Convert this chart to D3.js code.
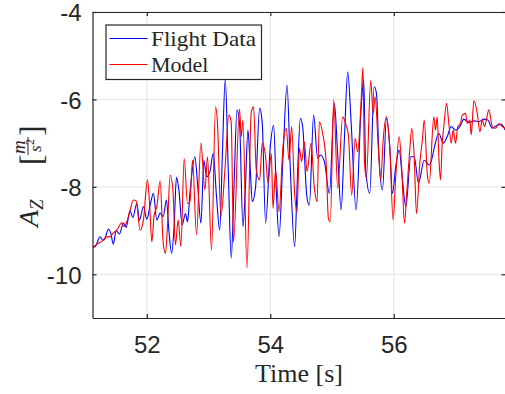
<!DOCTYPE html>
<html>
<head>
<meta charset="utf-8">
<script src="https://cdn.jsdelivr.net/npm/d3@7"></script>
<style>
  body { margin: 0; background: #fff; }
  svg { display: block; }
</style>
</head>
<body>
<div id="chart"></div>
<script>
// values (time in s, acceleration in m/s^2)
const flightT = [51.124,51.162,51.243,51.286,51.319,51.377,51.416,51.458,51.502,51.556,
  51.621,51.664,51.729,51.773,51.838,51.880,51.945,52.000,52.054,52.107,
  52.162,52.216,52.265,52.318,52.357,52.402,52.443,52.480,52.519,52.573,
  52.626,52.659,52.698,52.779,52.821,52.876,52.925,52.967,53.022,53.076,
  53.129,53.181,53.221,53.270,53.319,53.367,53.416,53.460,53.502,53.557,
  53.595,53.638,53.676,53.708,53.762,53.827,53.870,53.924,54.000,54.054,
  54.097,54.141,54.206,54.271,54.325,54.394,54.438,54.487,54.524,54.595,
  54.633,54.702,54.767,54.811,54.876,54.957,55.038,55.092,55.147,55.200,
  55.254,55.309,55.390,55.471,55.514,55.546,55.611,55.682,55.720,55.763,
  55.817,55.882,55.935,55.979,56.032,56.088,56.141,56.195,56.276,56.331,
  56.401,56.493,56.574,56.612,56.660,56.730,56.802,56.866,56.931,57.001,
  57.071,57.135,57.217,57.298,57.379,57.460,57.525,57.596,57.677,57.742,57.804];
const flightA = [-9.38,-9.37,-9.14,-9.22,-9.19,-8.97,-9.06,-9.31,-9.00,-9.08,
  -8.82,-8.93,-8.55,-8.70,-8.38,-8.76,-8.45,-8.74,-8.42,-8.15,
  -8.76,-8.60,-8.68,-8.30,-8.99,-9.52,-8.87,-7.78,-8.07,-8.87,
  -8.61,-8.80,-8.15,-7.31,-7.92,-8.83,-7.39,-7.77,-7.65,-7.23,
  -8.23,-8.99,-7.39,-5.54,-7.61,-9.63,-7.84,-6.24,-6.55,-8.91,
  -8.07,-6.70,-7.61,-8.34,-8.00,-6.20,-6.55,-8.83,-7.08,-6.59,
  -8.07,-9.14,-7.31,-5.67,-7.61,-9.37,-7.84,-6.43,-6.62,-8.26,
  -8.42,-6.36,-7.35,-7.27,-7.42,-8.15,-6.09,-7.27,-8.53,-6.93,
  -5.37,-6.51,-8.53,-6.20,-5.56,-7.61,-8.15,-5.71,-5.86,-7.39,
  -8.07,-6.43,-7.08,-8.15,-7.54,-7.16,-7.84,-8.45,-7.31,-7.31,
  -7.92,-7.39,-7.50,-7.39,-7.08,-6.78,-7.00,-6.85,-6.62,-6.70,
  -6.62,-6.45,-6.53,-6.49,-6.51,-6.45,-6.47,-6.66,-6.59,-6.57,-6.70];

const modelT = [51.124,51.194,51.296,51.340,51.405,51.454,51.514,51.595,51.632,51.685,
  51.729,51.783,51.827,51.891,51.945,52.010,52.046,52.081,52.119,52.162,
  52.216,52.265,52.302,52.334,52.378,52.422,52.464,52.508,52.552,52.605,
  52.659,52.698,52.740,52.805,52.876,52.941,52.983,53.048,53.113,53.145,
  53.200,53.265,53.330,53.367,53.405,53.502,53.530,53.557,53.622,53.692,
  53.729,53.773,53.827,53.870,53.924,53.963,54.016,54.044,54.086,54.141,
  54.206,54.260,54.303,54.346,54.394,54.433,54.471,54.508,54.552,54.595,
  54.660,54.714,54.758,54.795,54.848,54.904,54.941,54.973,55.027,55.092,
  55.173,55.228,55.265,55.319,55.374,55.416,55.471,55.501,55.525,55.557,
  55.627,55.666,55.698,55.752,55.789,55.828,55.882,55.935,55.990,56.032,
  56.088,56.130,56.174,56.206,56.259,56.292,56.331,56.368,56.422,56.466,
  56.493,56.547,56.574,56.649,56.676,56.704,56.730,56.757,56.785,56.811,
  56.855,56.892,56.931,56.963,57.001,57.038,57.082,57.109,57.163,57.191,
  57.233,57.255,57.298,57.353,57.395,57.434,57.471,57.504,57.541,57.596,
  57.650,57.703,57.758,57.804];
const modelA = [-9.38,-9.31,-9.22,-9.15,-9.14,-9.06,-8.99,-8.82,-8.91,-8.76,
  -8.53,-8.30,-8.32,-8.99,-8.76,-7.84,-8.42,-9.26,-8.64,-8.45,
  -7.86,-9.29,-9.52,-8.91,-7.73,-8.07,-9.33,-8.76,-9.37,-7.35,
  -8.38,-8.34,-7.39,-9.10,-7.00,-8.07,-7.31,-9.45,-6.17,-6.55,
  -8.68,-7.61,-6.36,-6.52,-9.26,-6.22,-6.85,-6.47,-9.86,-6.29,
  -6.17,-7.61,-7.84,-7.00,-7.31,-7.92,-7.23,-8.49,-7.61,-8.57,
  -7.08,-6.66,-7.39,-6.62,-8.15,-8.57,-7.12,-7.42,-6.97,-7.65,
  -7.00,-8.03,-8.34,-6.51,-6.78,-7.42,-8.72,-8.80,-6.01,-8.03,
  -6.40,-6.59,-6.81,-8.19,-6.89,-7.20,-6.05,-5.27,-7.42,-7.80,
  -5.56,-6.32,-5.94,-7.16,-7.84,-6.93,-6.40,-7.08,-8.76,-7.77,
  -6.85,-7.61,-8.83,-8.23,-7.16,-6.66,-7.31,-8.61,-7.46,-6.89,
  -6.47,-7.77,-7.92,-6.40,-6.70,-6.40,-7.31,-7.84,-7.00,-6.62,
  -6.09,-6.55,-7.00,-6.70,-7.00,-6.62,-6.55,-6.36,-6.32,-6.55,
  -6.47,-6.81,-6.03,-6.32,-6.74,-6.47,-6.62,-6.43,-6.24,-6.62,
  -6.66,-6.55,-6.62,-6.66];

const xTicks = [52, 54, 56];
const yTicks = [-4, -6, -8, -10];
const seriesNames = ["Flight Data", "Model"];
const seriesColors = ["#0000ff", "#ff0000"];

// plot box in page pixels
const W = 505, H = 394;
const box = {left: 92.5, right: 505.5, top: 12, bottom: 318};
const ink = "#262626";

const svg = d3.select("#chart").append("svg")
    .attr("width", W)
    .attr("height", H);

const x = d3.scaleLinear().domain([51.12, 57.81]).range([box.left, box.right]);
const y = d3.scaleLinear().domain([-11, -4]).range([box.bottom, box.top]);

// grid
const grid = svg.append("g").attr("stroke", "#e3e3e3").attr("stroke-width", 1);
grid.selectAll(".gx").data(xTicks).join("line")
    .attr("x1", d => x(d)).attr("x2", d => x(d))
    .attr("y1", box.top).attr("y2", box.bottom);
grid.selectAll(".gy").data(yTicks).join("line")
    .attr("x1", box.left).attr("x2", box.right)
    .attr("y1", d => y(d)).attr("y2", d => y(d));

// lines
svg.append("clipPath").attr("id", "clip")
  .append("rect")
    .attr("x", box.left).attr("y", box.top)
    .attr("width", box.right - box.left).attr("height", box.bottom - box.top);

const line = d3.line()
    .x(d => x(d[0]))
    .y(d => y(d[1]))
    .curve(d3.curveMonotoneX);

const series = [d3.zip(flightT, flightA), d3.zip(modelT, modelA)];

svg.append("g").attr("clip-path", "url(#clip)")
  .selectAll("path").data(series).join("path")
    .attr("d", line)
    .attr("fill", "none")
    .attr("stroke", (d, i) => seriesColors[i])
    .attr("stroke-width", 1.1)
    .attr("stroke-linejoin", "round");

// axes (ticks pointing inward, box on)
const plain = d => String(d);
function styleAxis(g) {
  g.select(".domain").attr("stroke", ink).attr("stroke-width", 1.2);
  g.selectAll(".tick line").attr("stroke", ink).attr("stroke-width", 1.2);
  g.selectAll(".tick text")
    .attr("fill", ink)
    .style("font-family", "'Liberation Sans', Arial, sans-serif")
    .style("font-size", "24px");
}

svg.append("g")
    .attr("transform", `translate(0,${box.bottom})`)
    .call(d3.axisBottom(x).tickValues(xTicks).tickFormat(plain)
      .tickSizeInner(-4).tickSizeOuter(0).tickPadding(18))
    .call(styleAxis);

svg.append("g")
    .attr("transform", `translate(0,${box.top})`)
    .call(d3.axisTop(x).tickValues(xTicks).tickSizeInner(-4).tickSizeOuter(0).tickFormat(""))
    .call(styleAxis);

svg.append("g")
    .attr("transform", `translate(${box.left},0)`)
    .call(d3.axisLeft(y).tickValues(yTicks).tickFormat(plain)
      .tickSizeInner(-4).tickSizeOuter(0).tickPadding(11))
    .call(styleAxis)
    .call(g => g.selectAll(".tick text").attr("dy", "0.37em"));

svg.append("g")
    .attr("transform", `translate(${box.right},0)`)
    .call(d3.axisRight(y).tickValues(yTicks).tickSizeInner(-4).tickSizeOuter(0).tickFormat(""))
    .call(styleAxis);

// x label
const serif = "'Liberation Serif', 'DejaVu Serif', serif";
svg.append("text")
    .attr("x", 255).attr("y", 382)
    .attr("textLength", 88)
    .attr("lengthAdjust", "spacingAndGlyphs")
    .style("font-family", serif).style("font-size", "25px")
    .attr("fill", ink)
    .text("Time [s]");

// y label: A_Z [m / s^2], rotated
const yl = svg.append("g")
    .attr("transform", "translate(38,227) rotate(-90)")
    .attr("fill", ink)
    .style("font-family", serif);
yl.append("text").attr("x", 0).attr("y", 0)
    .style("font-size", "28px").style("font-style", "italic").text("A");
yl.append("text").attr("x", 17).attr("y", 5)
    .style("font-size", "19px").style("font-style", "italic").text("Z");
yl.append("text").attr("x", 62).attr("y", 4)
    .style("font-size", "32px").text("[");
yl.append("text").attr("x", 73).attr("y", -13)
    .style("font-size", "19px").style("font-style", "italic").text("m");
yl.append("line")
    .attr("x1", 72).attr("x2", 90).attr("y1", -10).attr("y2", -10)
    .attr("stroke", ink).attr("stroke-width", 1);
yl.append("text").attr("x", 75).attr("y", 3)
    .style("font-size", "17px").style("font-style", "italic").text("s");
yl.append("text").attr("x", 82).attr("y", -4)
    .style("font-size", "12px").text("2");
yl.append("text").attr("x", 91).attr("y", 4)
    .style("font-size", "32px").text("]");

// legend
const lg = svg.append("g");
lg.append("rect")
    .attr("x", 106).attr("y", 25)
    .attr("width", 155.5).attr("height", 54.5)
    .attr("fill", "#fff")
    .attr("stroke", ink).attr("stroke-width", 1.2);
const items = lg.selectAll(".item").data(seriesNames).join("g")
    .attr("transform", (d, i) => `translate(0,${38.5 + i * 26})`);
items.append("line")
    .attr("x1", 109.5).attr("x2", 147.5)
    .attr("stroke", (d, i) => seriesColors[i])
    .attr("stroke-width", 1.1);
items.append("text")
    .attr("x", 151).attr("y", 7)
    .attr("textLength", (d, i) => i === 0 ? 105 : null)
    .attr("lengthAdjust", "spacingAndGlyphs")
    .style("font-family", serif).style("font-size", "22px")
    .attr("fill", ink)
    .text(d => d);
</script>
</body>
</html>
